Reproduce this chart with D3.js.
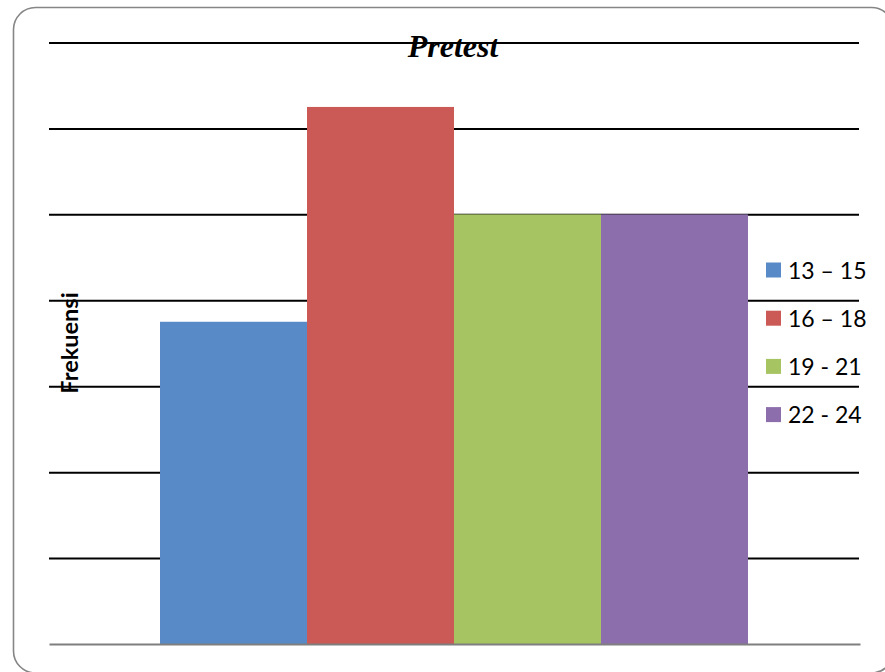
<!DOCTYPE html>
<html><head><meta charset="utf-8">
<script src="https://cdn.jsdelivr.net/npm/d3@7"></script>
<style>html,body{margin:0;padding:0;background:#fff;}svg{display:block;}</style>
</head><body>
<script>
const categories = ["Pretest"];
const seriesNames = ["13 – 15", "16 – 18", "19 - 21", "22 - 24"];
const seriesValues = [15, 25, 20, 20];
const gridTicks = [4, 8, 12, 16, 20, 24, 28];
const colors = ["#588AC7", "#CB5955", "#A7C463", "#8B6EAB"];

const W = 885, H = 672;
const svg = d3.select("body").append("svg").attr("width", W).attr("height", H);

// frame
svg.append("rect").attr("x", 13.5).attr("y", 7.5).attr("width", 880).attr("height", 665.5)
  .attr("rx", 22).attr("ry", 22).attr("fill", "#fff").attr("stroke", "#868686").attr("stroke-width", 1.6);

const pLeft = 49, pRight = 859, pTop = 42.5, pBottom = 644;
const y = d3.scaleLinear().domain([0, 28]).range([pBottom, pTop]);
const x0 = d3.scaleBand().domain(categories).range([pLeft, pRight]).paddingInner(0).paddingOuter(0.1888);
const x1 = d3.scaleBand().domain(seriesNames).range([0, x0.bandwidth()]).padding(0);

// gridlines
const grid = d3.axisLeft(y).tickValues(gridTicks).tickSize(-(pRight - pLeft)).tickFormat("");
const gg = svg.append("g").attr("transform", `translate(${pLeft},0)`).call(grid);
gg.select(".domain").remove();
gg.selectAll(".tick line").attr("stroke", "#000").attr("stroke-width", 2);

// bars
const g = svg.append("g").attr("transform", `translate(${x0(categories[0])},0)`);
g.selectAll("rect").data(seriesNames).join("rect")
  .attr("x", d => x1(d)).attr("width", x1.bandwidth())
  .attr("y", (d, i) => y(seriesValues[i]))
  .attr("height", (d, i) => y(0) - y(seriesValues[i]))
  .attr("fill", (d, i) => colors[i]);

// baseline
const xa = d3.axisBottom(d3.scaleLinear().range([pLeft, pRight + 1])).ticks(0).tickSize(0).tickFormat("");
const xg = svg.append("g").attr("transform", `translate(0,${pBottom})`).call(xa);
xg.select(".domain").attr("stroke", "#7f7f7f").attr("stroke-width", 2.2);

// title
svg.append("text").attr("x", 453).attr("y", 57).attr("text-anchor", "middle")
  .attr("font-family", "'Liberation Serif', 'Times New Roman', serif")
  .attr("font-weight", "bold").attr("font-style", "italic").attr("font-size", 32)
  .attr("fill", "#000").text("Pretest");

// y axis title
svg.append("text").attr("transform", "translate(78,343) rotate(-90)").attr("text-anchor", "middle")
  .attr("font-family", "Lato, 'Open Sans', sans-serif").attr("font-weight", "bold").attr("font-size", 23.5)
  .attr("fill", "#000").text("Frekuensi");

// legend
const lg = svg.append("g");
const rows = lg.selectAll("g").data(seriesNames).join("g")
  .attr("transform", (d, i) => `translate(766,${270 + i * 48.2})`);
rows.append("rect").attr("x", 0).attr("y", -7.5).attr("width", 15).attr("height", 15)
  .attr("fill", (d, i) => colors[i]);
rows.append("text").attr("x", 22).attr("y", 8.5)
  .attr("font-family", "Lato, 'Open Sans', sans-serif").attr("font-size", 23)
  .attr("fill", "#000").text(d => d);
</script>
</body></html>
